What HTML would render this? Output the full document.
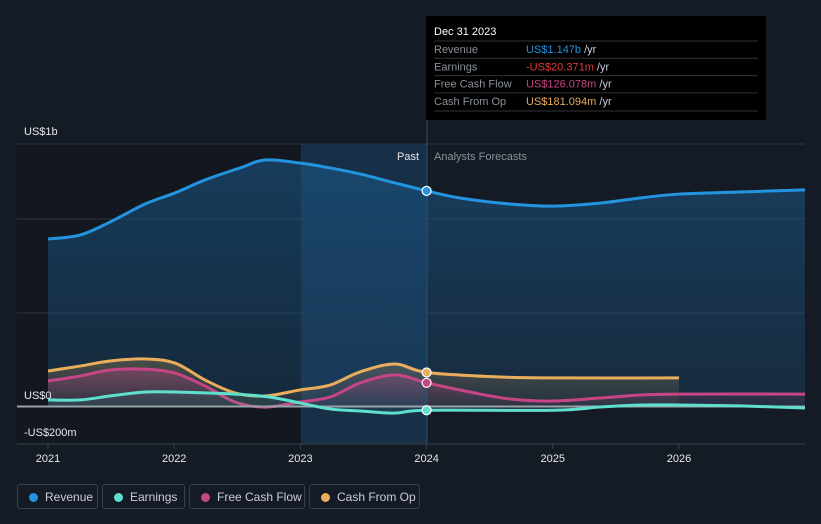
<!DOCTYPE html>
<html><head><meta charset="utf-8"><style>
body{margin:0;background:#151b24;width:821px;height:524px;overflow:hidden;font-family:"Liberation Sans",sans-serif}
svg{position:absolute;left:0;top:0}
.leg{position:absolute;top:484px;height:25px;border:1px solid #3a404a;border-radius:3px;color:#ccd;font-size:12px;line-height:25px;box-sizing:border-box;padding-left:27px}
.leg i{position:absolute;left:11px;top:8px;width:9px;height:9px;border-radius:50%}
</style></head><body>
<svg id="c" width="821" height="524"></svg>
<div class="leg" style="left:17px;width:81px"><i style="background:#2394df"></i>Revenue</div>
<div class="leg" style="left:102px;width:83px"><i style="background:#5fe0cf"></i>Earnings</div>
<div class="leg" style="left:189px;width:116px"><i style="background:#c74585"></i>Free Cash Flow</div>
<div class="leg" style="left:309px;width:111px"><i style="background:#e9ad5c"></i>Cash From Op</div>
<script>
const revX=[48,80,110,145,175,205,240,265,300,330,360,395,427,460,510,553,600,640,679,740,805];
const revenue=[891,912,981,1077,1136,1205,1269,1311,1295,1269,1237,1189,1147,1109,1077,1066,1082,1109,1130,1141,1152];
const cfoX=[48,80,110,145,175,205,235,265,300,330,360,395,427,500,553,679];
const cashFromOp=[189,215,242,253,231,141,72,56,88,114,184,226,181,157,152,152];
const fcfX=[48,80,110,145,175,205,235,265,300,330,360,395,427,470,510,553,600,640,679,805];
const freeCashFlow=[136,162,194,199,178,109,24,-3,24,50,125,168,126,77,40,29,45,61,66,66];
const earnX=[48,80,110,145,175,235,270,300,330,360,395,427,553,600,640,679,740,805];
const earnings=[35,35,56,77,77,66,50,19,-13,-24,-35,-20,-20,-3,8,8,3,-8];
const xTicks=["2021","2022","2023","2024","2025","2026"];
const yr=v=>2021+(v-48)/126.2;
const X=y=>48+(y-2021)*126.2, Y=v=>406.5-v*0.188;
const s=document.getElementById('c'),NS='http://www.w3.org/2000/svg';
function el(t,a,p){const e=document.createElementNS(NS,t);for(const k in a)e.setAttribute(k,a[k]);(p||s).appendChild(e);return e;}
const defs=el('defs',{});
defs.innerHTML='<linearGradient id="rg" x1="0" y1="0" x2="0" y2="1"><stop offset="0" stop-color="#1a5a8c" stop-opacity="0.55"/><stop offset="1" stop-color="#1a4a70" stop-opacity="0.35"/></linearGradient><linearGradient id="og" x1="0" y1="0" x2="0" y2="1"><stop offset="0" stop-color="#e9ad5c" stop-opacity="0.25"/><stop offset="1" stop-color="#e9ad5c" stop-opacity="0.05"/></linearGradient><linearGradient id="pg" x1="0" y1="0" x2="0" y2="1"><stop offset="0" stop-color="#c74585" stop-opacity="0.35"/><stop offset="1" stop-color="#c74585" stop-opacity="0.05"/></linearGradient>';
let r=el('rect',{x:17,y:144,width:284,height:300,fill:'#131820'});
r=el('rect',{x:301,y:144,width:126,height:300,fill:'#1a3e60',opacity:0.6});
[144,219,313].forEach(y=>{const l=el('line',{x1:17,x2:805,y1:y,y2:y,stroke:'#2c3440'});});
function pts(xs,vs){return xs.map((x,i)=>[X(yr(x)),Y(vs[i])]);}
function path(p){let d='M'+p[0][0]+','+p[0][1];for(let i=0;i<p.length-1;i++){const p0=p[i-1]||p[i],p1=p[i],p2=p[i+1],p3=p[i+2]||p2;d+=' C'+(p1[0]+(p2[0]-p0[0])/6)+','+(p1[1]+(p2[1]-p0[1])/6)+' '+(p2[0]-(p3[0]-p1[0])/6)+','+(p2[1]-(p3[1]-p1[1])/6)+' '+p2[0]+','+p2[1];}return d;}
function series(xs,vs,col,fill,name){const p=pts(xs,vs),d=path(p);const z=Y(0);
 let a=el('path',{d:d+' L'+p[p.length-1][0]+','+z+' L'+p[0][0]+','+z+'Z',fill:fill});
 let l=el('path',{d:d,fill:'none',stroke:col,'stroke-width':3});return p;}
series(revX,revenue,'#2394df','url(#rg)','revenue');
series(cfoX,cashFromOp,'#e9ad5c','url(#og)','cash-from-op');
series(fcfX,freeCashFlow,'#c74585','url(#pg)','free-cash-flow');
let zl=el('line',{x1:17,x2:805,y1:406.5,y2:406.5,stroke:'#9aa0a8','stroke-width':2});
series(earnX,earnings,'#5fe0cf','rgba(95,224,207,0.08)','earnings');
let vl=el('line',{x1:427,x2:427,y1:120,y2:444,stroke:'#24527a'});
[[revenue[12],'#2394df'],[cashFromOp[12],'#e9ad5c'],[freeCashFlow[12],'#c74585'],[earnings[11],'#5fe0cf']].forEach(([v,c])=>{const m=el('circle',{cx:X(2024),cy:Y(v),r:4.5,fill:c,stroke:'#fff','stroke-width':1.2});});
let ax=el('line',{x1:17,x2:805,y1:444,y2:444,stroke:'#3a404a'});
xTicks.forEach(t=>{const x=X(+t);const k=el('line',{x1:x,x2:x,y1:444,y2:449,stroke:'#3a404a'});
 const tx=el('text',{x:x,y:462,fill:'#e6e8eb','font-size':11,'text-anchor':'middle'});tx.textContent=t;});
[['US$1b',135],['US$0',399],['-US$200m',436]].forEach(([t,y])=>{const tx=el('text',{x:24,y:y,fill:'#e6e8eb','font-size':11});tx.textContent=t;});
let t1=el('text',{x:419,y:160,fill:'#e6e8eb','font-size':11,'text-anchor':'end'});t1.textContent='Past';
let t2=el('text',{x:434,y:160,fill:'#8a9099','font-size':11});t2.textContent='Analysts Forecasts';
// tooltip
const g=el('g',{});
el('rect',{x:426,y:16,width:340,height:104,fill:'#000'},g);
let h=el('text',{x:434,y:35,fill:'#fff','font-size':11},g);h.textContent='Dec 31 2023';
const rows=[['Revenue','US$1.147b','#2394df'],['Earnings','-US$20.371m','#e8373a'],['Free Cash Flow','US$126.078m','#c74585'],['Cash From Op','US$181.094m','#e9ad5c']];
rows.forEach((rw,i)=>{const y=53+i*17.3;el('line',{x1:434,x2:758,y1:y-12,y2:y-12,stroke:'#333'},g);
 const a=el('text',{x:434,y:y,fill:'#8a9099','font-size':11},g);a.textContent=rw[0];
 const b=el('text',{x:526,y:y,'font-size':11,fill:rw[2]},g);b.textContent=rw[1];
 const c=el('tspan',{fill:'#ccd'},b);c.textContent=' /yr';});
el('line',{x1:434,x2:758,y1:111,y2:111,stroke:'#333'},g);
</script>
</body></html>
